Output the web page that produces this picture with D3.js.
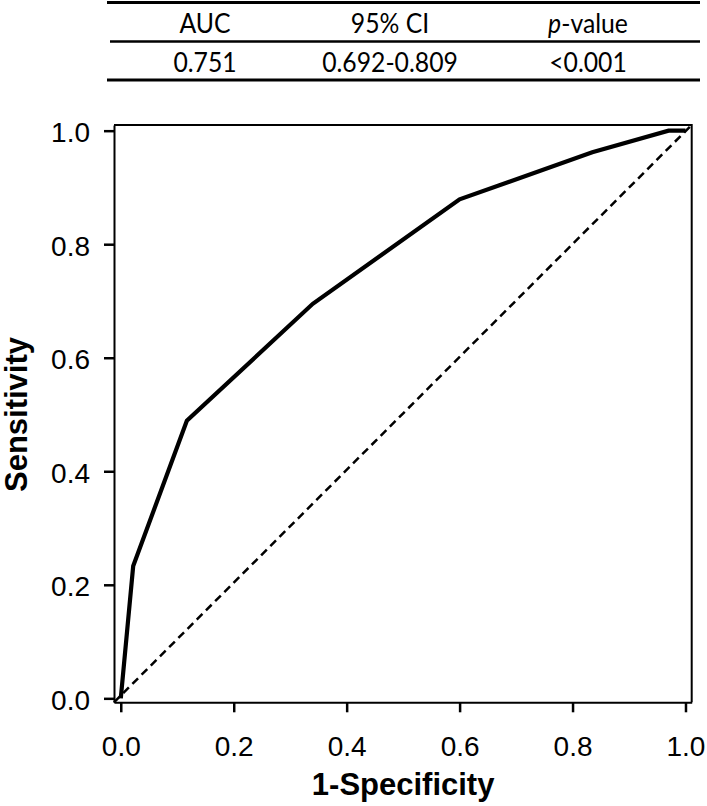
<!DOCTYPE html>
<html>
<head>
<meta charset="utf-8">
<script src="https://cdn.jsdelivr.net/npm/d3@7"></script>
<style>
  html, body { margin: 0; padding: 0; background: #fff; }
  svg { display: block; }
</style>
</head>
<body>
<svg id="chart" width="707" height="806"></svg>
<script>
// ---- data ----
const fpr = [0, 0.022, 0.117, 0.34, 0.6, 0.835, 0.97, 1.0];
const tpr = [0, 0.233, 0.489, 0.695, 0.879, 0.962, 1.0, 1.0];
const diagX = [-0.012, 1.011];
const diagY = [-0.007, 1.01];
const tickValues = [0, 0.2, 0.4, 0.6, 0.8, 1.0];
const tableHeaders = ["AUC", "95% CI", "p-value"];
const tableValues = ["0.751", "0.692-0.809", "<0.001"];
const xTitle = "1-Specificity";
const yTitle = "Sensitivity";

// ---- layout ----
const svg = d3.select("#chart");
const plot = { left: 114, right: 691.7, top: 125, bottom: 702.3 };

const x = d3.scaleLinear().domain([diagX[0], diagX[1]]).range([plot.left, plot.right]);
const y = d3.scaleLinear().domain([diagY[0], diagY[1]]).range([plot.bottom, plot.top]);

const tickFont = "Liberation Sans, Arial, sans-serif";

// frame (top and right sides)
svg.append("path")
  .attr("d", `M${plot.left},${plot.top}H${plot.right}V${plot.bottom}`)
  .attr("fill", "none").attr("stroke", "#000").attr("stroke-width", 2);

// x axis
const gx = svg.append("g")
  .attr("transform", `translate(0,${plot.bottom})`)
  .call(d3.axisBottom(x).tickValues(tickValues).tickFormat(d3.format(".1f"))
        .tickSize(10).tickSizeOuter(0).tickPadding(24));
gx.select(".domain").attr("stroke-width", 2);
gx.selectAll(".tick line").attr("stroke-width", 2.5);
gx.selectAll(".tick text").attr("font-family", tickFont).attr("font-size", 28).attr("fill", "#000");

// y axis
const gy = svg.append("g")
  .attr("transform", `translate(${plot.left},0)`)
  .call(d3.axisLeft(y).tickValues(tickValues).tickFormat(d3.format(".1f"))
        .tickSize(10).tickSizeOuter(0).tickPadding(14));
gy.select(".domain").attr("stroke-width", 2);
gy.selectAll(".tick line").attr("stroke-width", 2.5);
gy.selectAll(".tick text").attr("font-family", tickFont).attr("font-size", 28)
  .attr("fill", "#000").attr("dy", "0.4em");

// diagonal reference
svg.append("line")
  .attr("x1", x(diagX[0])).attr("y1", y(diagY[0]))
  .attr("x2", x(diagX[1])).attr("y2", y(diagY[1]))
  .attr("stroke", "#000").attr("stroke-width", 2.5)
  .attr("stroke-dasharray", "8,5");

// ROC curve
const pts = fpr.map((f, i) => [f, tpr[i]]);
svg.append("path")
  .datum(pts)
  .attr("d", d3.line().x(d => x(d[0])).y(d => y(d[1])))
  .attr("fill", "none").attr("stroke", "#000").attr("stroke-width", 4.2)
  .attr("stroke-linejoin", "miter");

// axis titles
svg.append("text")
  .attr("x", (x(0) + x(1)) / 2).attr("y", 795)
  .attr("text-anchor", "middle")
  .attr("font-family", tickFont).attr("font-weight", "bold").attr("font-size", 31)
  .text(xTitle);

svg.append("text")
  .attr("transform", `translate(27,${(y(0) + y(1)) / 2}) rotate(-90)`)
  .attr("text-anchor", "middle")
  .attr("font-family", tickFont).attr("font-weight", "bold").attr("font-size", 31)
  .text(yTitle);

// ---- table ----
const tableFont = "Lato, 'Open Sans', sans-serif";
const colX = [205, 390, 588];
const tbl = svg.append("g");
tbl.append("line").attr("x1", 107).attr("x2", 700).attr("y1", 2.5).attr("y2", 2.5)
  .attr("stroke", "#000").attr("stroke-width", 3);
tbl.append("line").attr("x1", 110).attr("x2", 700).attr("y1", 41.5).attr("y2", 41.5)
  .attr("stroke", "#000").attr("stroke-width", 2.5);
tbl.append("line").attr("x1", 107).attr("x2", 700).attr("y1", 80).attr("y2", 80)
  .attr("stroke", "#000").attr("stroke-width", 3);

function cell(xc, yb) {
  return tbl.append("text")
    .attr("transform", `translate(${xc},${yb}) scale(0.9,1)`)
    .attr("text-anchor", "middle").attr("font-family", tableFont).attr("font-size", 27.5);
}
tableHeaders.forEach((h, i) => {
  const t = cell(colX[i], 32.5);
  if (h.startsWith("p-")) {
    t.append("tspan").attr("font-style", "italic").text("p");
    t.append("tspan").text(h.slice(1));
  } else {
    t.text(h);
  }
});
tableValues.forEach((v, i) => {
  cell(colX[i], 71.5).text(v);
});
</script>
</body>
</html>
